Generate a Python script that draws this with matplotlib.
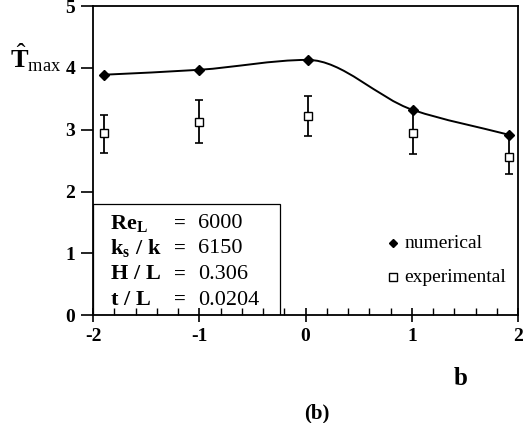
import numpy as np
import matplotlib.pyplot as plt
from matplotlib.path import Path
from matplotlib.patches import PathPatch, Rectangle
from matplotlib.ticker import MultipleLocator

plt.rcParams['font.family'] = 'Liberation Serif'
plt.rcParams['axes.unicode_minus'] = False
plt.rcParams['mathtext.fontset'] = 'custom'
plt.rcParams['mathtext.rm'] = 'Liberation Serif'
plt.rcParams['mathtext.bf'] = 'Liberation Serif:bold'

# numerical results
b_num = [-1.9, -1.0, 0.02, 1.01, 1.91]
T_num = [3.89, 3.97, 4.13, 3.32, 2.92]

# experimental results with scatter band
b_exp = [-1.9, -1.0, 0.02, 1.01, 1.91]
T_exp = [2.94, 3.13, 3.23, 2.94, 2.56]
T_hi = [3.24, 3.48, 3.55, 3.32, 2.90]
T_lo = [2.63, 2.79, 2.90, 2.61, 2.29]

params = [r'$\mathbf{Re_L}$', r'$\mathbf{k_s\;/\;k}$', r'$\mathbf{H\;/\;L}$', r'$\mathbf{t\;/\;L}$']
values = ['6000', '6150', '0.306', '0.0204']

fig = plt.figure(figsize=(5.23, 4.23), dpi=100)
ax = fig.add_axes([0.178, 0.255, 0.8126, 0.7305])

# smooth monotone cubic through the numerical points, drawn as Bezier segments
x = np.array(b_num)
y = np.array(T_num)
h = np.diff(x)
d = np.diff(y) / h
m = np.zeros_like(y)
for i in range(1, len(x) - 1):
    if d[i - 1] * d[i] > 0:
        w1 = 2 * h[i] + h[i - 1]
        w2 = h[i] + 2 * h[i - 1]
        m[i] = (w1 + w2) / (w1 / d[i - 1] + w2 / d[i])
m[0] = d[0]
m[-1] = d[-1]
verts = [(x[0], y[0])]
codes = [Path.MOVETO]
for i in range(len(x) - 1):
    verts += [(x[i] + h[i] / 3, y[i] + m[i] * h[i] / 3),
              (x[i + 1] - h[i] / 3, y[i + 1] - m[i + 1] * h[i] / 3),
              (x[i + 1], y[i + 1])]
    codes += [Path.CURVE4] * 3
ax.add_patch(PathPatch(Path(verts, codes), fc='none', ec='black', lw=1.4, zorder=3))
ax.plot(b_num, T_num, 'D', color='black', ms=5, zorder=4)

err = [np.subtract(T_exp, T_lo), np.subtract(T_hi, T_exp)]
ax.errorbar(b_exp, T_exp, yerr=err, fmt='none', ecolor='black', elinewidth=1.3,
            capsize=3, capthick=1.2, zorder=2)
ax.plot(b_exp, T_exp, 's', mfc='white', mec='black', mew=1.0, ms=6, zorder=5)

# parameter box
ax.add_patch(Rectangle((-2, 0), 1.76, 1.8, fill=False, ec='black', lw=0.9, zorder=1))
ys = [1.48, 1.08, 0.65, 0.24]
for p, v, yy in zip(params, values, ys):
    ax.text(-1.84, yy, p, fontsize=16, va='center', ha='left')
    ax.text(-1.24, yy, '=', fontsize=15, fontweight='bold', va='center', ha='left')
    ax.text(-1.01, yy, v, fontsize=16, va='center', ha='left')

# legend
ax.plot([0.82], [1.16], 'D', color='black', ms=4)
ax.text(0.93, 1.16, 'numerical', fontsize=14, va='center')
ax.plot([0.82], [0.61], 's', mfc='white', mec='black', mew=1.0, ms=5.5)
ax.text(0.93, 0.61, 'experimental', fontsize=14, va='center')

ax.set_xlim(-2, 2)
ax.set_ylim(0, 5)
ax.xaxis.set_major_locator(MultipleLocator(1))
ax.xaxis.set_minor_locator(MultipleLocator(0.2))
ax.yaxis.set_major_locator(MultipleLocator(1))
ax.tick_params(axis='x', which='major', direction='inout', length=10, width=1.2,
               labelsize=14, pad=4)
ax.tick_params(axis='x', which='minor', direction='in', length=5, width=1.0)
ax.tick_params(axis='y', which='major', direction='out', length=9, width=1.2,
               labelsize=14, pad=4)
for lab in ax.get_xticklabels() + ax.get_yticklabels():
    lab.set_fontweight('bold')
for s in ax.spines.values():
    s.set_linewidth(1.3)

fig.text(0.02, 0.84, r'$\hat{\mathbf{T}}_{\mathrm{max}}$', fontsize=19)
fig.text(0.88, 0.09, 'b', fontsize=18, fontweight='bold', ha='center')
fig.text(0.606, 0.01, '(b)', fontsize=15, fontweight='bold', ha='center')

fig.savefig('out.png', dpi=100)
